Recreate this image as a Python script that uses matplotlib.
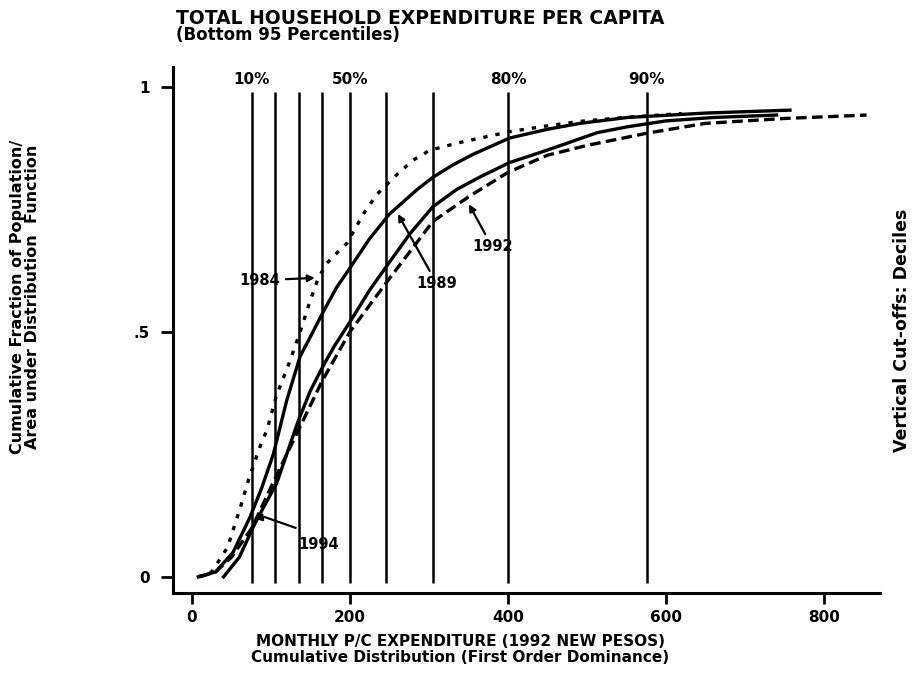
import matplotlib
matplotlib.use("Agg")
import matplotlib.pyplot as plt

# ---- data ----
x_1984 = [8, 25, 45, 61, 72, 86, 95, 107, 124, 137, 149, 160, 171, 183, 196, 217, 234, 259, 280, 301, 339, 402, 450, 491, 546, 620]
y_1984 = [0.0, 0.01, 0.06, 0.14, 0.20, 0.265, 0.30, 0.37, 0.44, 0.50, 0.56, 0.61, 0.64, 0.66, 0.68, 0.74, 0.78, 0.82, 0.85, 0.87, 0.886, 0.908, 0.92, 0.929, 0.937, 0.945]

x_1989 = [8, 30, 52, 73, 88, 103, 120, 137, 150, 166, 183, 200, 225, 250, 285, 305, 330, 356, 402, 450, 491, 551, 650, 757]
y_1989 = [0.0, 0.01, 0.05, 0.12, 0.18, 0.25, 0.36, 0.45, 0.49, 0.54, 0.59, 0.63, 0.69, 0.74, 0.79, 0.815, 0.84, 0.862, 0.895, 0.913, 0.925, 0.937, 0.946, 0.952]

x_1992 = [10, 30, 50, 76, 105, 135, 165, 200, 246, 305, 350, 400, 450, 500, 576, 650, 750, 854]
y_1992 = [0.0, 0.01, 0.04, 0.10, 0.20, 0.30, 0.40, 0.50, 0.60, 0.725, 0.775, 0.825, 0.86, 0.88, 0.905, 0.925, 0.935, 0.942]

x_1994 = [40, 60, 77, 90, 107, 135, 150, 166, 180, 200, 225, 247, 276, 305, 335, 365, 402, 449, 513, 551, 600, 660, 740]
y_1994 = [0.0, 0.04, 0.10, 0.14, 0.19, 0.32, 0.38, 0.43, 0.47, 0.52, 0.585, 0.635, 0.70, 0.755, 0.79, 0.816, 0.845, 0.87, 0.906, 0.918, 0.93, 0.937, 0.942]

decile_cutoffs = [76, 105, 135, 165, 200, 246, 305, 400, 576]
decile_labels = {76: "10%", 200: "50%", 400: "80%", 576: "90%"}

x_ticks = [0, 200, 400, 600, 800]
x_ticklabels = ["0", "200", "400", "600", "800"]
y_ticks = [0, 0.5, 1]
y_ticklabels = ["0", ".5", "1"]

FONT = "DejaVu Sans"

fig = plt.figure(figsize=(9.22, 6.90), dpi=100)
ax = fig.add_axes([173/922, 97/690, 707/922, 526/690])
ax.set_xlim(-24, 871)
ax.set_ylim(-0.033, 1.04)

for s in ("top", "right"):
    ax.spines[s].set_visible(False)
for s in ("left", "bottom"):
    ax.spines[s].set_linewidth(2.2)

# vertical decile cut-offs
for xc in decile_cutoffs:
    ax.plot([xc, xc], [-0.012, 0.99], color="black", lw=1.8, solid_capstyle="butt")
for xc, lab in decile_labels.items():
    ax.text(xc, 1.0, lab, ha="center", va="bottom", fontsize=11,
            fontweight="bold", family=FONT)

# distribution curves
ax.plot(x_1984, y_1984, color="black", lw=2.4, dashes=(1.3, 2.4))
ax.plot(x_1989, y_1989, color="black", lw=2.4)
ax.plot(x_1992, y_1992, color="black", lw=2.4, dashes=(3.2, 1.6))
ax.plot(x_1994, y_1994, color="black", lw=2.4)

arw = dict(arrowstyle="-|>", color="black", lw=1.6, mutation_scale=10)
lab_kw = dict(fontsize=10.5, fontweight="bold", family=FONT)
ax.annotate("1984", xy=(159, 0.61), xytext=(86, 0.605), ha="center", va="center",
            arrowprops=arw, **lab_kw)
ax.annotate("1989", xy=(259, 0.745), xytext=(310, 0.598), ha="center", va="center",
            arrowprops=arw, **lab_kw)
ax.annotate("1992", xy=(349, 0.765), xytext=(380, 0.673), ha="center", va="center",
            arrowprops=arw, **lab_kw)
ax.plot([131, 92], [0.10, 0.122], color="black", lw=1.6)
ax.annotate("", xy=(76, 0.118), xytext=(93, 0.122), arrowprops=arw)
ax.text(160, 0.065, "1994", ha="center", va="center", **lab_kw)

ax.set_xticks(x_ticks)
ax.set_xticklabels(x_ticklabels)
ax.set_yticks(y_ticks)
ax.set_yticklabels(y_ticklabels)
ax.tick_params(axis="x", direction="out", length=8, width=2, pad=4, labelsize=11)
ax.tick_params(axis="y", direction="out", length=9, width=2, pad=8, labelsize=11)
for lab in ax.get_xticklabels() + ax.get_yticklabels():
    lab.set_fontweight("bold")
    lab.set_family(FONT)

# titles and axis texts
fig.text(176/922, 1 - 18/690, "TOTAL HOUSEHOLD EXPENDITURE PER CAPITA",
         ha="left", va="center", fontsize=13.5, fontweight="bold", family=FONT)
fig.text(176/922, 1 - 35/690, "(Bottom 95 Percentiles)",
         ha="left", va="center", fontsize=12, fontweight="bold", family=FONT)

fig.text(460/922, 1 - 641/690, "MONTHLY P/C EXPENDITURE (1992 NEW PESOS)",
         ha="center", va="center", fontsize=11, fontweight="bold", family=FONT)
fig.text(460/922, 1 - 657/690, "Cumulative Distribution (First Order Dominance)",
         ha="center", va="center", fontsize=11, fontweight="bold", family=FONT)

fig.text(25/922, 1 - 297/690,
         "Cumulative Fraction of Population/\nArea under Distribution  Function",
         ha="center", va="center", rotation=90, fontsize=11.5, fontweight="bold",
         family=FONT, linespacing=0.95, multialignment="center")

fig.text(902/922, 1 - 330/690, "Vertical Cut-offs: Deciles",
         ha="center", va="center", rotation=90, fontsize=12.5, fontweight="bold", family=FONT)

fig.savefig("out.png", dpi=100)
